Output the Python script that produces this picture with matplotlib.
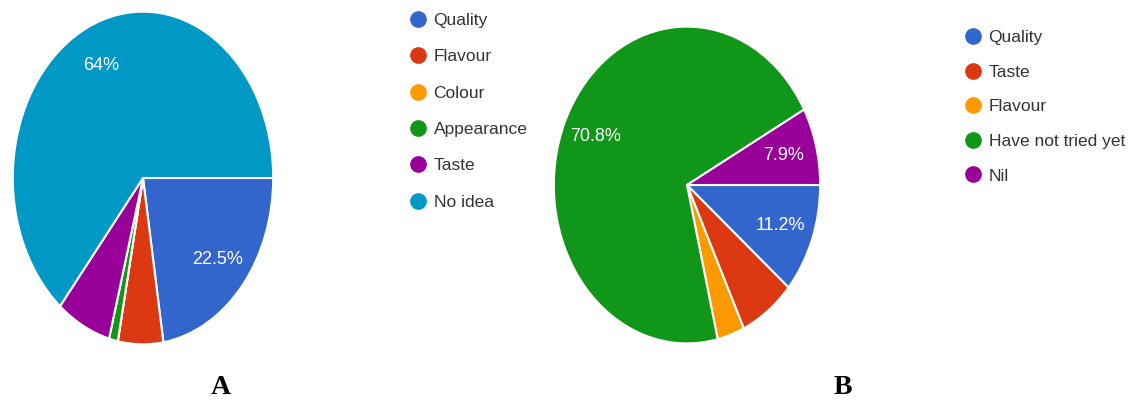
import matplotlib
matplotlib.use('Agg')
import matplotlib.pyplot as plt
from matplotlib.lines import Line2D

plt.rcParams['font.family'] = ['Liberation Sans', 'DejaVu Sans']

# chart A
labels_a = ['Quality', 'Flavour', 'Colour', 'Appearance', 'Taste', 'No idea']
values_a = [22.5, 5.6, 0.0, 1.1, 6.8, 64.0]
colors_a = ['#3366cc', '#dc3912', '#ff9900', '#109618', '#990099', '#0099c6']

# chart B
labels_b = ['Quality', 'Taste', 'Flavour', 'Have not tried yet', 'Nil']
values_b = [11.2, 6.8, 3.3, 70.8, 7.9]
colors_b = ['#3366cc', '#dc3912', '#ff9900', '#109618', '#990099']

W, H = 1138., 407.
fig = plt.figure(figsize=(W/100., H/100.), dpi=100)

def fmt(p):
	if p < 7.5:
		return ''
	s = ('%.1f' % p).rstrip('0').rstrip('.')
	return s + '%'

def draw_pie(box, values, colors):
	# box = left, top, right, bottom in pixels
	l, t, r, b = box
	ax = fig.add_axes([l/W, 1-b/H, (r-l)/W, (b-t)/H])
	vals = [v if v > 0 else 1e-9 for v in values]
	wedges, texts, autotexts = ax.pie(vals, colors=colors, startangle=0, counterclock=False,
		autopct=fmt, pctdistance=0.75, wedgeprops=dict(edgecolor='white', linewidth=1.5),
		textprops=dict(color='white', fontsize=13))
	ax.set_aspect('auto')
	ax.set_xlim(-1.01, 1.01)
	ax.set_ylim(-1.01, 1.01)
	ax.axis('off')
	return ax

draw_pie((11.5, 10, 274.5, 346), values_a, colors_a)
draw_pie((552.5, 25, 821.5, 345), values_b, colors_b)

def legend(labels, colors, x, y, spacing):
	handles = [Line2D([], [], marker='o', linestyle='', markersize=11, markerfacecolor=c,
		markeredgecolor=c) for c in colors]
	fig.legend(handles, labels, loc='upper left', bbox_to_anchor=(x/W, 1-y/H), frameon=False,
		fontsize=12.5, handlelength=0.8, handletextpad=0.5, labelspacing=spacing, borderpad=0,
		borderaxespad=0, labelcolor='#333333')

legend(labels_a, colors_a, 411, 13, 1.22)
legend(labels_b, colors_b, 966, 30, 1.12)

fig.text(221/W, 1-388/H, 'A', ha='center', va='center', fontsize=20, fontweight='bold',
	family='Liberation Serif')
fig.text(843/W, 1-388/H, 'B', ha='center', va='center', fontsize=20, fontweight='bold',
	family='Liberation Serif')

fig.savefig('out.png', dpi=100, facecolor='white')
